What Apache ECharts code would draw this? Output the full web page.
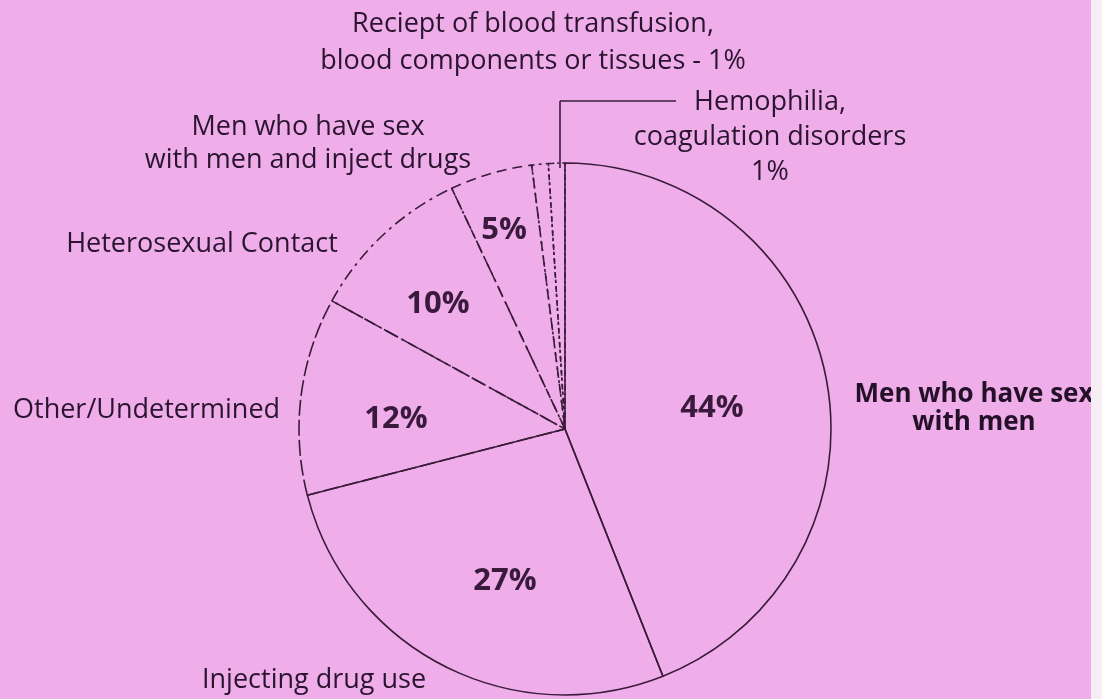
<!DOCTYPE html>
<html>
<head>
<meta charset="utf-8">
<script src="https://cdn.jsdelivr.net/npm/echarts@6/dist/echarts.min.js"></script>
<style>
html,body{margin:0;padding:0;background:#EFAEE9;}
#chart{width:1102px;height:699px;}
</style>
</head>
<body>
<div id="chart"></div>
<script>
// Data
const categories = [
  'Men who have sex with men',
  'Injecting drug use',
  'Other/Undetermined',
  'Heterosexual Contact',
  'Men who have sex with men and inject drugs',
  'Reciept of blood transfusion, blood components or tissues',
  'Hemophilia, coagulation disorders'
];
const values = [44, 27, 12, 10, 5, 1, 1];
const nameLabels = [
  'Men who have sex\nwith men',
  'Injecting drug use',
  'Other/Undetermined',
  'Heterosexual Contact',
  'Men who have sex\nwith men and inject drugs',
  'Reciept of blood transfusion,\nblood components or tissues - 1%',
  'Hemophilia,\ncoagulation disorders\n1%'
];
const pctShown = [true, true, true, true, true, false, false];

// layout (not data)
const CX = 565, CY = 429, R = 266;
const pctPos = [[712,408],[505,581],[396,419],[438,304],[504,230],[0,0],[0,0]];
const namePos = [[974,409],[202,680],[13,410],[202,244],[308,144],[533,43],[770,137]];
const nameAlign = ['center','left','left','center','center','center','center'];
const nameLH = [28, 34, 34, 33, 33, 37, 35];
const borderTypes = ['solid','solid',[16,4],[12,5,3,5],[10,6],[3,4],[6,3,2,3]];
const lineColor = '#3a1c3a';
const textColor = '#2a1430';

const chart = echarts.init(document.getElementById('chart'));

const dataA = categories.map((c, i) => ({
  name: c, value: values[i],
  itemStyle: { color: 'rgba(0,0,0,0)', borderColor: lineColor, borderWidth: 1.6, borderType: borderTypes[i] },
  label: { show: pctShown[i] }
}));
const dataB = categories.map((c, i) => ({
  name: c, value: values[i],
  label: Object.assign(i === 0 ? { fontWeight: 'bold', fontSize: 26, color: '#241028' } : {}, { lineHeight: nameLH[i] }),
  labelLine: { show: false }
}));

chart.setOption({
  backgroundColor: '#EFAEE9',
  animation: false,
  series: [
    {
      type: 'pie', center: [CX, CY], radius: R, startAngle: 90, clockwise: true,
      silent: true, avoidLabelOverlap: false,
      data: dataA,
      label: {
        position: 'inside',
        formatter: p => p.value + '%',
        fontFamily: 'Open Sans', fontWeight: 'bold', fontSize: 31, color: '#3a1a3c'
      },
      labelLine: { show: false },
      labelLayout: p => ({ x: pctPos[p.dataIndex][0], y: pctPos[p.dataIndex][1], align: 'center', verticalAlign: 'middle' }),
      z: 2
    },
    {
      type: 'pie', center: [CX, CY], radius: R, startAngle: 90, clockwise: true,
      silent: true, avoidLabelOverlap: false,
      data: dataB,
      itemStyle: { color: 'rgba(0,0,0,0)', borderWidth: 0 },
      label: {
        show: true, position: 'outside',
        formatter: p => nameLabels[p.dataIndex],
        fontFamily: 'Open Sans', fontSize: 27, color: textColor, align: 'center'
      },
      labelLine: { show: false },
      labelLayout: p => {
        const i = p.dataIndex;
        return { x: namePos[i][0], y: namePos[i][1], align: nameAlign[i], verticalAlign: 'middle' };
      },
      z: 3
    }
  ],
  graphic: [
    { type: 'line', shape: { x1: 560, y1: 101, x2: 560, y2: 168 }, style: { stroke: lineColor, lineWidth: 1.6 }, z: 10 },
    { type: 'line', shape: { x1: 560, y1: 101, x2: 676, y2: 101 }, style: { stroke: lineColor, lineWidth: 1.6 }, z: 10 },
    { type: 'rect', shape: { x: 1091, y: 0, width: 11, height: 699 }, style: { fill: '#f7eef5' }, z: 100 }
  ]
});
</script>
</body>
</html>
